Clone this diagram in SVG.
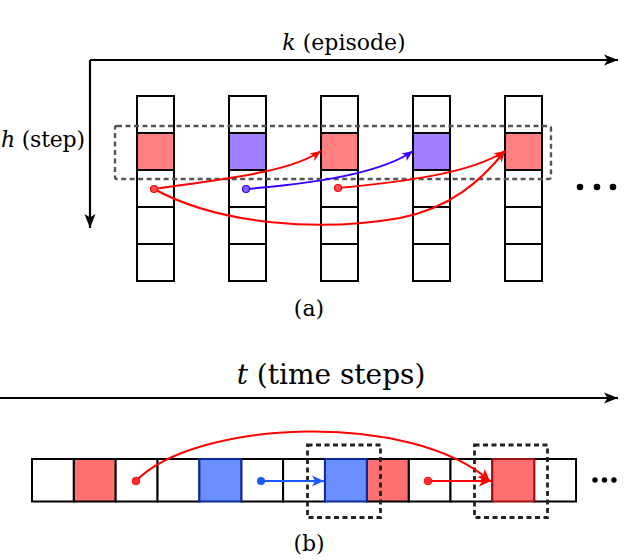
<svg xmlns="http://www.w3.org/2000/svg" width="640" height="559" viewBox="0 0 640 559">
<defs>
<style>
text{font-family:'DejaVu Serif','Liberation Serif',serif;fill:#000}
.cell{fill:#fff;stroke:#000;stroke-width:2}
.axis{fill:none;stroke:#000;stroke-width:2.2}
.rc{fill:#ff8080;stroke:#000;stroke-width:2}
.pc{fill:#a080ff;stroke:#000;stroke-width:2}
.bc{fill:#fff;stroke:#000;stroke-width:2}
.bred{fill:#ff7070;stroke:#000;stroke-width:2}
.bblue{fill:#6b8eff;stroke:#0a2a9a;stroke-width:2}
.dashg{fill:none;stroke:#555;stroke-width:2.4;stroke-dasharray:5 3.5}
.dashk{fill:none;stroke:#222;stroke-width:2.8;stroke-dasharray:5 3.5}
.red{fill:none;stroke:#ff0000;stroke-width:2}
.blu{fill:none;stroke:#3a00ff;stroke-width:2}
.blu2{fill:none;stroke:#1a5aff;stroke-width:2}
</style>
<marker id="ak" markerUnits="userSpaceOnUse" markerWidth="20" markerHeight="14" refX="15" refY="7" orient="auto" overflow="visible">
<path d="M15,7 L1,1.5 L4.5,7 L1,12.5 Z" fill="#000"/>
</marker>
<marker id="ar" markerUnits="userSpaceOnUse" markerWidth="16" markerHeight="12" refX="12" refY="6" orient="auto" overflow="visible">
<path d="M12,6 L1,1.5 L4,6 L1,10.5 Z" fill="#ff0000"/>
</marker>
<marker id="ab" markerUnits="userSpaceOnUse" markerWidth="16" markerHeight="12" refX="12" refY="6" orient="auto" overflow="visible">
<path d="M12,6 L1,1.5 L4,6 L1,10.5 Z" fill="#3a00ff"/>
</marker>
<marker id="ar2" markerUnits="userSpaceOnUse" markerWidth="16" markerHeight="12" refX="12" refY="6" orient="auto" overflow="visible">
<path d="M12,6 L0,0.5 L3,6 L0,11.5 Z" fill="#ff0000"/>
</marker>
<marker id="ab2" markerUnits="userSpaceOnUse" markerWidth="16" markerHeight="12" refX="12" refY="6" orient="auto" overflow="visible">
<path d="M12,6 L0,0.5 L3,6 L0,11.5 Z" fill="#1a5aff"/>
</marker>
</defs>

<g id="axes-a">
<path class="axis" d="M90,60 H618" marker-end="url(#ak)"/>
<path class="axis" d="M90,60 V228" marker-end="url(#ak)"/>
<text x="344" y="50" font-size="22" text-anchor="middle"><tspan font-style="italic">k</tspan> (episode)</text>
<text x="1" y="147" font-size="22" textLength="84"><tspan font-style="italic">h</tspan> (step)</text>
</g>

<g id="col1">
<rect class="cell" x="137" y="96" width="37" height="37"/>
<rect class="rc" x="137" y="133" width="37" height="37"/>
<rect class="cell" x="137" y="170" width="37" height="37"/>
<rect class="cell" x="137" y="207" width="37" height="37"/>
<rect class="cell" x="137" y="244" width="37" height="37"/>
</g>
<g id="col2">
<rect class="cell" x="229" y="96" width="37" height="37"/>
<rect class="pc" x="229" y="133" width="37" height="37"/>
<rect class="cell" x="229" y="170" width="37" height="37"/>
<rect class="cell" x="229" y="207" width="37" height="37"/>
<rect class="cell" x="229" y="244" width="37" height="37"/>
</g>
<g id="col3">
<rect class="cell" x="321" y="96" width="37" height="37"/>
<rect class="rc" x="321" y="133" width="37" height="37"/>
<rect class="cell" x="321" y="170" width="37" height="37"/>
<rect class="cell" x="321" y="207" width="37" height="37"/>
<rect class="cell" x="321" y="244" width="37" height="37"/>
</g>
<g id="col4">
<rect class="cell" x="413" y="96" width="37" height="37"/>
<rect class="pc" x="413" y="133" width="37" height="37"/>
<rect class="cell" x="413" y="170" width="37" height="37"/>
<rect class="cell" x="413" y="207" width="37" height="37"/>
<rect class="cell" x="413" y="244" width="37" height="37"/>
</g>
<g id="col5">
<rect class="cell" x="505" y="96" width="37" height="37"/>
<rect class="rc" x="505" y="133" width="37" height="37"/>
<rect class="cell" x="505" y="170" width="37" height="37"/>
<rect class="cell" x="505" y="207" width="37" height="37"/>
<rect class="cell" x="505" y="244" width="37" height="37"/>
</g>
<g id="step-box">
<rect class="dashg" x="115" y="126" width="436" height="53" rx="2"/>
</g>
<g id="dots-a" fill="#000">
<circle cx="580" cy="187" r="3.3"/>
<circle cx="597" cy="187" r="3.3"/>
<circle cx="613" cy="187" r="3.3"/>
</g>

<g id="connectors-a">
<path class="red" d="M154,189 C230,178 290,172 321,151" marker-end="url(#ar)"/>
<path class="red" d="M154,189 C220,225 320,232 400,218 C450,208 480,182 505,151" marker-end="url(#ar)"/>
<path class="blu" d="M246,189 C310,184 380,174 413,151" marker-end="url(#ab)"/>
<path class="red" d="M338,188 C400,182 470,174 505,151" marker-end="url(#ar)"/>
<circle cx="154" cy="189" r="3.5" fill="#ff5050" stroke="#ff0000" stroke-width="1.2"/>
<circle cx="246" cy="189" r="3.5" fill="#8060ff" stroke="#3a00ff" stroke-width="1.2"/>
<circle cx="338" cy="188" r="3.5" fill="#ff5050" stroke="#ff0000" stroke-width="1.2"/>
</g>
<text x="309" y="316" font-size="22" text-anchor="middle">(a)</text>

<g id="axis-b">
<path class="axis" d="M0,398 H618" marker-end="url(#ak)"/>
<text x="331" y="384" font-size="28" text-anchor="middle"><tspan font-style="italic">t</tspan> (time steps)</text>
</g>
<g id="row-b">
<rect class="bc" x="32" y="459" width="41.85" height="42.5"/>
<rect class="bred" x="73.85" y="459" width="41.85" height="42.5"/>
<rect class="bc" x="115.7" y="459" width="41.85" height="42.5"/>
<rect class="bc" x="157.55" y="459" width="41.85" height="42.5"/>
<rect class="bc" x="241.25" y="459" width="41.85" height="42.5"/>
<rect class="bc" x="283.1" y="459" width="41.85" height="42.5"/>
<rect class="bc" x="408.65" y="459" width="41.85" height="42.5"/>
<rect class="bc" x="450.5" y="459" width="41.85" height="42.5"/>
<rect class="bc" x="534.2" y="459" width="41.85" height="42.5"/>
<rect class="bred" x="366.8" y="459" width="41.85" height="42.5"/>
<rect class="bblue" x="199.4" y="459" width="41.85" height="42.5"/>
<rect class="bblue" x="324.95" y="459" width="41.85" height="42.5"/>
<rect class="bred" x="492.35" y="459" width="41.85" height="42.5" style="stroke:#a01010"/>
</g>
<g id="window1"><rect class="dashk" x="307.5" y="445" width="73" height="72.5"/></g>
<g id="window2"><rect class="dashk" x="474.5" y="445" width="73" height="72.5"/></g>
<g id="dots-b" fill="#000">
<circle cx="595" cy="480" r="2.7"/>
<circle cx="604.5" cy="480" r="2.7"/>
<circle cx="614" cy="480" r="2.7"/>
</g>
<g id="connectors-b">
<path class="red" d="M136,481 C195,420 410,410 490,481" marker-end="url(#ar2)"/>
<path class="blu2" d="M261,481 H324" marker-end="url(#ab2)"/>
<path class="red" d="M428,481 H491" marker-end="url(#ar2)"/>
<circle cx="136" cy="481" r="3.8" fill="#ff3030" stroke="#ff0000" stroke-width="1"/>
<circle cx="261" cy="481" r="4" fill="#1a5aff"/>
<circle cx="428" cy="481" r="3.8" fill="#ff3030" stroke="#ff0000" stroke-width="1"/>
</g>
<text x="309" y="551" font-size="22" text-anchor="middle">(b)</text>
</svg>
